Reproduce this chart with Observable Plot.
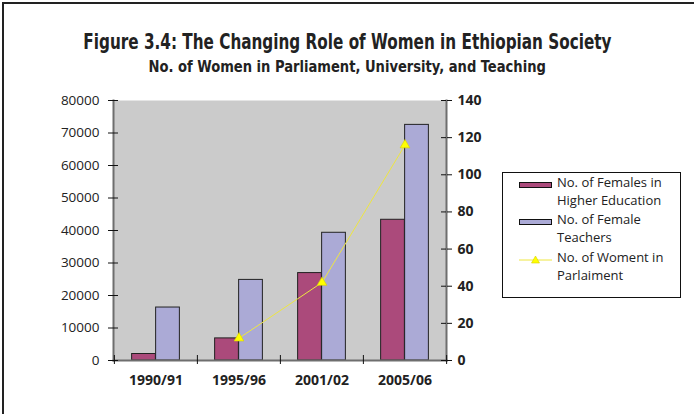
<!DOCTYPE html>
<html>
<head>
<meta charset="utf-8">
<script src="https://cdn.jsdelivr.net/npm/d3@7"></script>
<script src="https://cdn.jsdelivr.net/npm/@observablehq/plot@0.6"></script>
<style>
  body { margin: 0; background: #fff; }
  #wrap { position: relative; width: 694px; height: 414px; overflow: hidden; background: #fff; }
  #border { position: absolute; left: 2px; top: 2px; width: 720px; height: 440px; border-top: 2px solid #222; border-left: 2px solid #222; }
  #title { position: absolute; left: 0; width: 694px; top: 29px; text-align: center; font: bold 22px "DejaVu Sans Condensed", sans-serif; color: #222; white-space: nowrap; transform: scaleX(0.77); transform-origin: 349px 0; }
  #subtitle { position: absolute; left: 0; width: 694px; top: 57px; text-align: center; font: bold 16px "DejaVu Sans Condensed", sans-serif; color: #222; white-space: nowrap; transform: scaleX(0.91); transform-origin: 349px 0; }
  #chart { position: absolute; left: 0; top: 0; }
  #legend { position: absolute; left: 502px; top: 172px; width: 177px; height: 124px; border: 1px solid #111; background: #fff; font: 13px "Open Sans", sans-serif; color: #222; }
  .entry { position: absolute; left: 16px; }
  .entry svg { position: absolute; left: 0; top: 4px; }
  .entry span { position: absolute; left: 38px; top: -2px; white-space: pre; line-height: 17.5px; }
</style>
</head>
<body>
<div id="wrap">
  <div id="border"></div>
  <div id="title"></div>
  <div id="subtitle"></div>
  <div id="chart"></div>
  <div id="legend"></div>
</div>
<script>
// ---- data ----
const titleText = "Figure 3.4: The Changing Role of Women in Ethiopian Society";
const subtitleText = "No. of Women in Parliament, University, and Teaching";
const years = ["1990/91", "1995/96", "2001/02", "2005/06"];
const higherEd = [2000, 6800, 26900, 43300];
const teachers = [16300, 24800, 39300, 72500];
const parliament = [null, 12, 42, 116];
const leftTicks = [0, 10000, 20000, 30000, 40000, 50000, 60000, 70000, 80000];
const rightTicks = [0, 20, 40, 60, 80, 100, 120, 140];
const seriesNames = ["No. of Females in\nHigher Education", "No. of Female\nTeachers", "No. of Woment in\nParlaiment"];

// ---- styles ----
const colHE = "#ab4a7b";
const colT = "#abaad6";
const colLine = "#eee640";
const colMark = "#ffff00";
const bg = "#cbcbcb";
const axisGray = "#6e6e6e";

document.getElementById("title").textContent = titleText;
document.getElementById("subtitle").textContent = subtitleText;

const data = years.map((year, i) => ({year, he: higherEd[i], teach: teachers[i], parl: parliament[i]}));
const parlData = data.filter(d => d.parl != null);

const W = 694, H = 414, mL = 113, mR = 248, mT = 100, mB = 54;
const plotW = W - mL - mR, plotH = H - mT - mB;
const band = plotW / years.length;
const barW = 24;
const outer = (band - 2 * barW) / 2;
const k = leftTicks[leftTicks.length - 1] / rightTicks[rightTicks.length - 1];

const chart = Plot.plot({
  width: W, height: H,
  marginLeft: mL, marginRight: mR, marginTop: mT, marginBottom: mB,
  style: {fontFamily: "Open Sans, sans-serif", fontSize: "13px", background: "transparent", color: "#222"},
  x: {type: "band", domain: years, padding: 0, label: null},
  y: {domain: [0, 80000], label: null},
  marks: [
    Plot.frame({fill: bg, stroke: null}),
    Plot.barY(data, {x: "year", y: "he", fill: colHE, stroke: "#222", strokeWidth: 1, insetLeft: outer, insetRight: outer + barW}),
    Plot.barY(data, {x: "year", y: "teach", fill: colT, stroke: "#222", strokeWidth: 1, insetLeft: outer + barW, insetRight: outer}),
    Plot.line(parlData, {x: "year", y: d => d.parl * k, stroke: colLine, strokeWidth: 1}),
    Plot.dot(parlData, {x: "year", y: d => d.parl * k, symbol: "triangle", r: 3.6, fill: colMark, stroke: "#d8d000", strokeWidth: 0.6}),
    Plot.frame({anchor: "left", stroke: axisGray, strokeWidth: 2}),
    Plot.frame({anchor: "right", stroke: axisGray, strokeWidth: 2}),
    Plot.frame({anchor: "bottom", stroke: axisGray, strokeWidth: 2}),
    Plot.axisY(leftTicks, {anchor: "left", tickSize: 5, tickPadding: 9, tickFormat: d3.format("d"), fontSize: 13.5, stroke: "#111", fill: "#222", label: null}),
    Plot.tickY(leftTicks, {y: d => d, stroke: "#111", insetRight: plotW - 5}),
    Plot.axisY(rightTicks.map(v => v * k), {anchor: "right", tickSize: 5, tickPadding: 6, tickFormat: d => Math.round(d / k), fontSize: 14, fontWeight: "bold", stroke: "#111", fill: "#222", label: null}),
    Plot.tickY(rightTicks.map(v => v * k), {y: d => d, stroke: "#111", insetLeft: plotW - 5}),
    Plot.axisX({tickSize: 0, tickPadding: 15, fontSize: 14, fontWeight: "bold", fill: "#222", label: null}),
    Plot.tickX(years, {x: d => d, dx: -band / 2, stroke: "#111", insetTop: plotH - 5, insetBottom: -4}),
    Plot.tickX(years.slice(-1), {x: d => d, dx: band / 2, stroke: "#111", insetTop: plotH - 5, insetBottom: -4})
  ]
});
document.getElementById("chart").appendChild(chart);

// ---- legend ----
const legend = document.getElementById("legend");
const entryTops = [3, 40, 78];
seriesNames.forEach((name, i) => {
  const e = document.createElement("div");
  e.className = "entry";
  e.style.top = entryTops[i] + "px";
  let sw;
  if (i < 2) {
    sw = `<svg width="34" height="10"><rect x="0.5" y="2.5" width="32" height="5" fill="${i === 0 ? colHE : colT}" stroke="#111" stroke-width="1"/></svg>`;
  } else {
    sw = `<svg width="34" height="10"><line x1="0" x2="33" y1="5" y2="5" stroke="${colLine}" stroke-width="1"/><path d="M16.5,1 L20.5,8 L12.5,8 Z" fill="${colMark}" stroke="#d8d000" stroke-width="0.6"/></svg>`;
  }
  e.innerHTML = sw + `<span></span>`;
  e.querySelector("span").textContent = name;
  legend.appendChild(e);
});
</script>
</body>
</html>
